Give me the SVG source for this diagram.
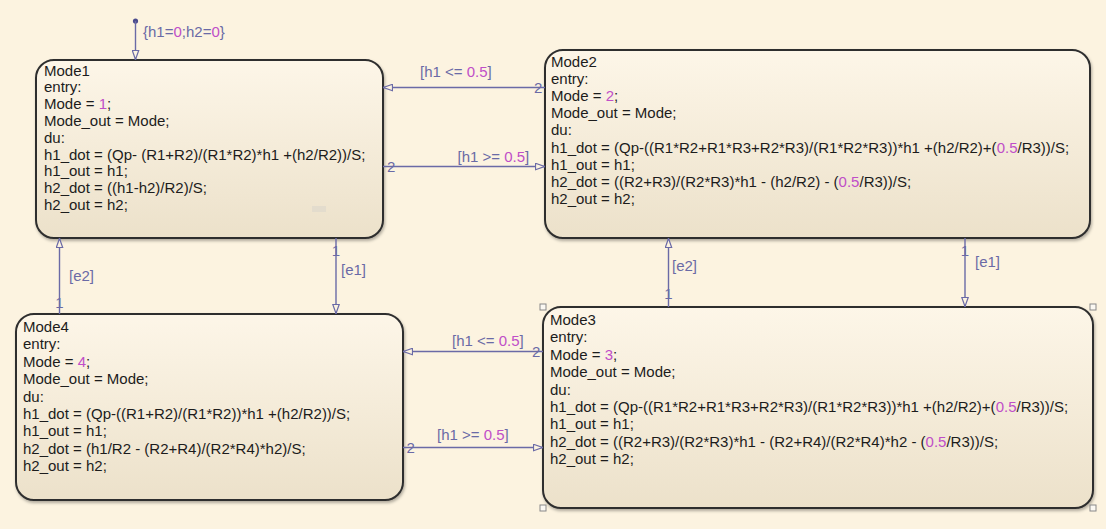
<svg xmlns="http://www.w3.org/2000/svg" width="1106" height="529" viewBox="0 0 1106 529">
<style>
.bg{fill:#fcf3e0}
.st{stroke:#2e2e2e;stroke-width:2;fill:url(#sf);filter:url(#sh)}
.tx{font-family:"Liberation Sans",Arial,sans-serif;font-size:15px;fill:#1c1c1c}
.num{fill:#c04ec8}
.ln{stroke:#6a6aa6;stroke-width:1.4;fill:none}
.lb{font-family:"Liberation Sans",Arial,sans-serif;font-size:15px;fill:#6a6aa6}
.hd{fill:#fbf8f2;stroke:#888;stroke-width:1}
</style>
<defs>
<linearGradient id="sf" x1="0" y1="0" x2="0" y2="1">
<stop offset="0" stop-color="#fdf6e8"/>
<stop offset="1" stop-color="#ece1ca"/>
</linearGradient>
<filter id="sh" x="-5%" y="-5%" width="110%" height="115%">
<feDropShadow dx="1" dy="2" stdDeviation="1.5" flood-color="#000" flood-opacity="0.3"/>
</filter>
<marker id="ah" viewBox="0 0 10 8" refX="10" refY="4" markerWidth="10" markerHeight="8" markerUnits="userSpaceOnUse" orient="auto">
<path d="M0.5,0.8 L9.5,4 L0.5,7.2 Z" fill="#fcf3e0" stroke="#6a6aa6" stroke-width="1.2"/>
</marker>
</defs>
<rect class="bg" x="0" y="0" width="1106" height="529"/>

<g id="Mode1">
<rect class="st" x="36" y="60" width="347" height="178" rx="18"/>
<rect x="312" y="206" width="14" height="6" fill="#e3dccd"/>
<text class="tx" x="44" y="75.5">Mode1</text>
<text class="tx" x="44" y="92.3">entry:</text>
<text class="tx" x="44" y="109.1">Mode = <tspan class="num">1</tspan>;</text>
<text class="tx" x="44" y="125.9">Mode_out = Mode;</text>
<text class="tx" x="44" y="142.7">du:</text>
<text class="tx" x="44" y="159.5">h1_dot = (Qp- (R1+R2)/(R1*R2)*h1 +(h2/R2))/S;</text>
<text class="tx" x="44" y="176.3">h1_out = h1;</text>
<text class="tx" x="44" y="193.1">h2_dot = ((h1-h2)/R2)/S;</text>
<text class="tx" x="44" y="209.9">h2_out = h2;</text>
</g>

<g id="Mode2">
<rect class="st" x="545" y="50" width="545" height="188" rx="18"/>
<text class="tx" x="551" y="67">Mode2</text>
<text class="tx" x="551" y="84.1">entry:</text>
<text class="tx" x="551" y="101.2">Mode = <tspan class="num">2</tspan>;</text>
<text class="tx" x="551" y="118.3">Mode_out = Mode;</text>
<text class="tx" x="551" y="135.4">du:</text>
<text class="tx" x="551" y="152.5">h1_dot = (Qp-((R1*R2+R1*R3+R2*R3)/(R1*R2*R3))*h1 +(h2/R2)+(<tspan class="num">0.5</tspan>/R3))/S;</text>
<text class="tx" x="551" y="169.6">h1_out = h1;</text>
<text class="tx" x="551" y="186.7">h2_dot = ((R2+R3)/(R2*R3)*h1 - (h2/R2) - (<tspan class="num">0.5</tspan>/R3))/S;</text>
<text class="tx" x="551" y="203.8">h2_out = h2;</text>
</g>

<g id="Mode3">
<rect class="st" x="543" y="307" width="550" height="201" rx="18"/>
<text class="tx" x="550" y="325">Mode3</text>
<text class="tx" x="550" y="342.4">entry:</text>
<text class="tx" x="550" y="359.8">Mode = <tspan class="num">3</tspan>;</text>
<text class="tx" x="550" y="377.2">Mode_out = Mode;</text>
<text class="tx" x="550" y="394.6">du:</text>
<text class="tx" x="550" y="412">h1_dot = (Qp-((R1*R2+R1*R3+R2*R3)/(R1*R2*R3))*h1 +(h2/R2)+(<tspan class="num">0.5</tspan>/R3))/S;</text>
<text class="tx" x="550" y="429.4">h1_out = h1;</text>
<text class="tx" x="550" y="446.8">h2_dot = ((R2+R3)/(R2*R3)*h1 - (R2+R4)/(R2*R4)*h2 - (<tspan class="num">0.5</tspan>/R3))/S;</text>
<text class="tx" x="550" y="464.2">h2_out = h2;</text>
<rect class="hd" x="540" y="304" width="6" height="6"/>
<rect class="hd" x="1090" y="304" width="6" height="6"/>
<rect class="hd" x="540" y="505" width="6" height="6"/>
<rect class="hd" x="1090" y="505" width="6" height="6"/>
</g>

<g id="Mode4">
<rect class="st" x="16" y="314" width="387" height="186" rx="18"/>
<text class="tx" x="23" y="332">Mode4</text>
<text class="tx" x="23" y="349.4">entry:</text>
<text class="tx" x="23" y="366.8">Mode = <tspan class="num">4</tspan>;</text>
<text class="tx" x="23" y="384.2">Mode_out = Mode;</text>
<text class="tx" x="23" y="401.6">du:</text>
<text class="tx" x="23" y="419">h1_dot = (Qp-((R1+R2)/(R1*R2))*h1 +(h2/R2))/S;</text>
<text class="tx" x="23" y="436.4">h1_out = h1;</text>
<text class="tx" x="23" y="453.8">h2_dot = (h1/R2 - (R2+R4)/(R2*R4)*h2)/S;</text>
<text class="tx" x="23" y="471.2">h2_out = h2;</text>
</g>

<g id="connectors">
<circle cx="135.5" cy="21" r="2.6" fill="#4a4a8c"/>
<line class="ln" x1="135.5" y1="21" x2="135.5" y2="60" marker-end="url(#ah)"/>
<text class="lb" x="143" y="37">{h1=<tspan class="num">0</tspan>;h2=<tspan class="num">0</tspan>}</text>

<line class="ln" x1="545" y1="87.5" x2="383" y2="87.5" marker-end="url(#ah)"/>
<text class="lb" x="420" y="76.5">[h1 &lt;= <tspan class="num">0.5</tspan>]</text>
<text class="lb" x="534" y="92.5">2</text>

<line class="ln" x1="383" y1="166.5" x2="545" y2="166.5" marker-end="url(#ah)"/>
<text class="lb" x="457.5" y="162">[h1 &gt;= <tspan class="num">0.5</tspan>]</text>
<text class="lb" x="387" y="172">2</text>

<line class="ln" x1="336" y1="238" x2="336" y2="314" marker-end="url(#ah)"/>
<text class="lb" x="336" y="255.5" text-anchor="middle">1</text>
<text class="lb" x="341" y="275">[e1]</text>

<line class="ln" x1="59.5" y1="314" x2="59.5" y2="238" marker-end="url(#ah)"/>
<text class="lb" x="59.5" y="307.5" text-anchor="middle">1</text>
<text class="lb" x="69" y="281">[e2]</text>

<line class="ln" x1="668.5" y1="307" x2="668.5" y2="238" marker-end="url(#ah)"/>
<text class="lb" x="668.5" y="298.5" text-anchor="middle">1</text>
<text class="lb" x="672" y="271">[e2]</text>

<line class="ln" x1="965" y1="238" x2="965" y2="307" marker-end="url(#ah)"/>
<text class="lb" x="965" y="255.5" text-anchor="middle">1</text>
<text class="lb" x="975" y="267">[e1]</text>

<line class="ln" x1="543" y1="351.5" x2="403" y2="351.5" marker-end="url(#ah)"/>
<text class="lb" x="452" y="345.5">[h1 &lt;= <tspan class="num">0.5</tspan>]</text>
<text class="lb" x="532" y="357">2</text>

<line class="ln" x1="403" y1="447.5" x2="543" y2="447.5" marker-end="url(#ah)"/>
<text class="lb" x="437" y="440">[h1 &gt;= <tspan class="num">0.5</tspan>]</text>
<text class="lb" x="406.5" y="453">2</text>
</g>
</svg>
